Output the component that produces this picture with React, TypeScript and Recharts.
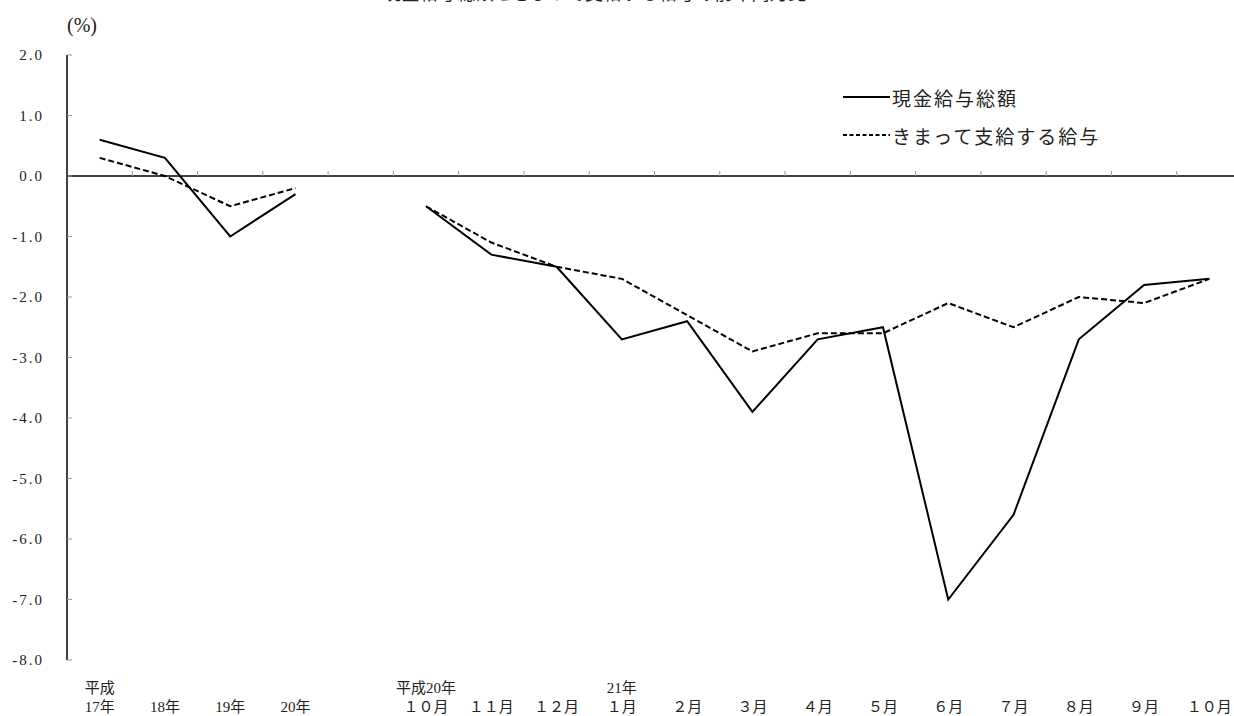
import React from "react";
import { ComposedChart, Line, XAxis, YAxis, ReferenceLine, Scatter, Legend } from "recharts";

// 下段ラベル（年・月）と上段ラベル
const categories = [
  "17年", "18年", "19年", "20年", "",
  "１０月", "１１月", "１２月", "１月", "２月", "３月", "４月", "５月",
  "６月", "７月", "８月", "９月", "１０月",
];
const upperLabels = [
  "平成", "", "", "", "",
  "平成20年", "", "", "21年", "", "", "", "",
  "", "", "", "", "",
];

// 前年同月比 (%)
const totalPay = [0.6, 0.3, -1.0, -0.3, null, -0.5, -1.3, -1.5, -2.7, -2.4, -3.9, -2.7, -2.5, -7.0, -5.6, -2.7, -1.8, -1.7];
const regularPay = [0.3, 0.0, -0.5, -0.2, null, -0.5, -1.1, -1.5, -1.7, -2.3, -2.9, -2.6, -2.6, -2.1, -2.5, -2.0, -2.1, -1.7];

const seriesNames = ["現金給与総額", "きまって支給する給与"];
const yTicks = [2, 1, 0, -1, -2, -3, -4, -5, -6, -7, -8];

const data = categories.map((c, i) => ({
  x: i,
  label: c,
  total: totalPay[i],
  regular: regularPay[i],
}));

// 0%線上の区切り目盛
const boundaries = categories.slice(1).map((_, i) => ({ x: i + 0.5, y: 0 }));
const labelTicks = categories.map((c, i) => (c ? i : -1)).filter((i) => i >= 0);

const numFont = "'Liberation Serif', 'Noto Sans CJK JP', serif";
const jpFont = "'Noto Sans CJK JP', sans-serif";

const XTick = (props: any) => {
  const { x, y, payload } = props;
  const i = payload.value;
  return (
    <g fontFamily={numFont} fontSize={15} fill="#222">
      <text x={x} y={y + 28} textAnchor="middle" dominantBaseline="central">
        {upperLabels[i]}
      </text>
      <text x={x} y={y + 47} textAnchor="middle" dominantBaseline="central">
        {categories[i]}
      </text>
    </g>
  );
};

const BoundaryTick = (props: any) => {
  const { cx, cy } = props;
  return <line x1={cx} x2={cx} y1={cy} y2={cy - 5} stroke="#999" strokeWidth={1} />;
};

const LegendBox = (props: any) => {
  const items = (props.payload || [])
    .filter((p: any) => seriesNames.includes(p.value))
    .sort((a: any, b: any) => seriesNames.indexOf(a.value) - seriesNames.indexOf(b.value));
  return (
    <div style={{ fontFamily: jpFont, fontSize: 19, color: "#222" }}>
      {items.map((p: any) => (
        <div key={p.value} style={{ display: "flex", alignItems: "center", height: 38 }}>
          <svg width={48} height={10}>
            <line
              x1={0}
              x2={47}
              y1={5}
              y2={5}
              stroke="#000"
              strokeWidth={2}
              strokeDasharray={p.payload && p.payload.strokeDasharray ? "4 2.5" : undefined}
            />
          </svg>
          <span style={{ marginLeft: 1, letterSpacing: 2 }}>{p.value}</span>
        </div>
      ))}
    </div>
  );
};

export default function App() {
  return (
    <div
      style={{
        position: "fixed",
        left: 0,
        top: 0,
        width: 1234,
        height: 716,
        overflow: "hidden",
        background: "#fff",
      }}
    >
      <div
        style={{
          position: "absolute",
          left: 0,
          width: 1190,
          top: -20,
          textAlign: "center",
          fontFamily: jpFont,
          fontSize: 18,
          lineHeight: "24px",
          letterSpacing: 0.5,
          color: "#222",
          whiteSpace: "nowrap",
        }}
      >
        現金給与総額ときまって支給する給与の前年同月比
      </div>
      <div
        style={{
          position: "absolute",
          left: 67,
          top: 13,
          fontFamily: numFont,
          fontSize: 20,
          lineHeight: "24px",
          color: "#222",
        }}
      >
        (%)
      </div>
      <ComposedChart
        width={1252}
        height={716}
        data={data}
        margin={{ top: 55, right: 10, bottom: 0, left: 0 }}
      >
        <XAxis
          dataKey="x"
          type="number"
          domain={[-0.5, 17.5]}
          ticks={labelTicks}
          interval={0}
          axisLine={false}
          tickLine={false}
          tickSize={0}
          tickMargin={0}
          height={56}
          tick={<XTick />}
        />
        <YAxis
          type="number"
          domain={[-8, 2]}
          ticks={yTicks}
          interval={0}
          width={67}
          allowDataOverflow
          axisLine={{ stroke: "#000", strokeWidth: 1.5 }}
          tickLine={{ stroke: "#999" }}
          tickSize={-5}
          tickMargin={28}
          tickFormatter={(v: number) => v.toFixed(1)}
          tick={{ fontFamily: numFont, fontSize: 15, fill: "#222", letterSpacing: 2 }}
        />
        <ReferenceLine y={0} stroke="#000" strokeWidth={1.5} />
        <Scatter
          data={boundaries}
          dataKey="y"
          shape={<BoundaryTick />}
          legendType="none"
          isAnimationActive={false}
        />
        <Line
          type="linear"
          dataKey="total"
          name={seriesNames[0]}
          stroke="#000"
          strokeWidth={2}
          dot={false}
          activeDot={false}
          isAnimationActive={false}
        />
        <Line
          type="linear"
          dataKey="regular"
          name={seriesNames[1]}
          stroke="#000"
          strokeWidth={2}
          strokeDasharray="6 3"
          dot={false}
          activeDot={false}
          isAnimationActive={false}
        />
        <Legend
          layout="vertical"
          align="center"
          verticalAlign="middle"
          content={<LegendBox />}
          wrapperStyle={{ left: 843, top: 78, width: 340 }}
        />
      </ComposedChart>
    </div>
  );
}
